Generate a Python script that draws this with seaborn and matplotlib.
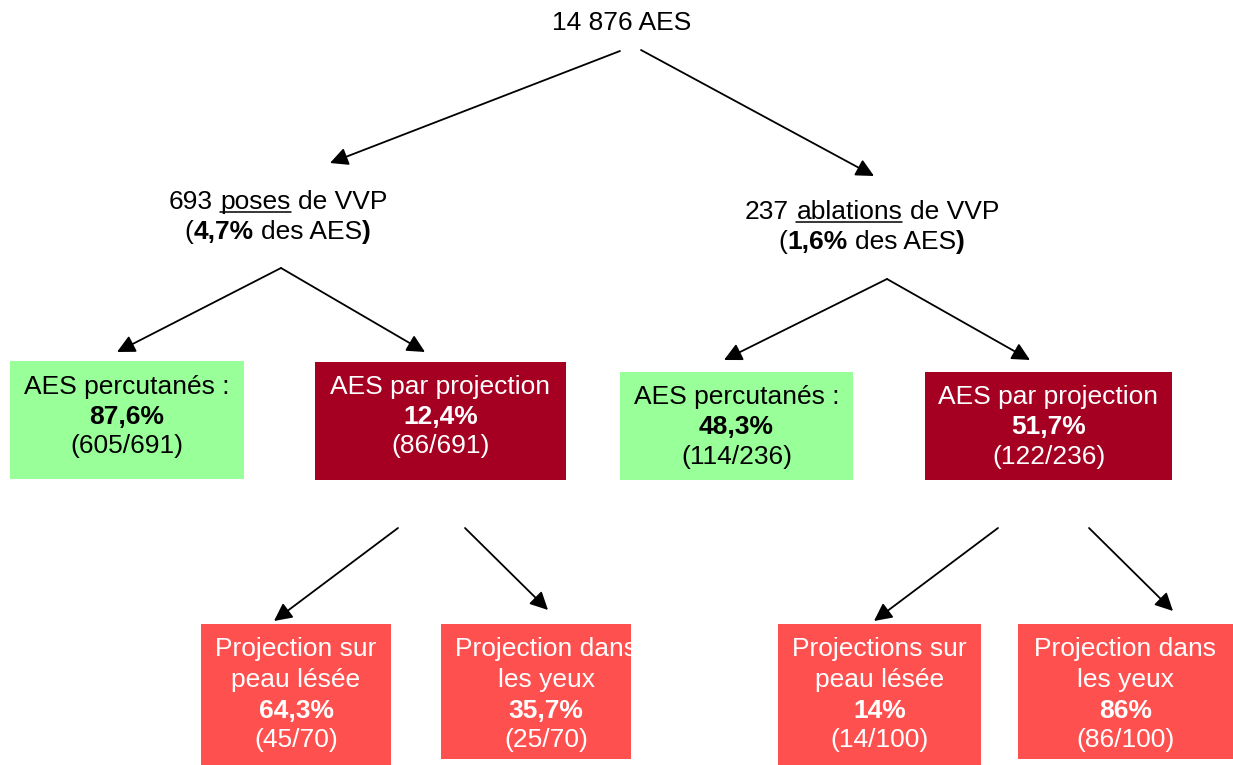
"""Flow diagram of AES (accidents d'exposition au sang) linked to VVP."""

import matplotlib
matplotlib.use("Agg")
import matplotlib.pyplot as plt
from matplotlib.patches import Rectangle
import seaborn as sns

# ---- data -----------------------------------------------------------------
total_aes = "14 876"
branch_names = ["poses", "ablations"]
branch_n = [693, 237]
branch_pct = ["4,7%", "1,6%"]

route_labels = ["AES percutanés :", "AES par projection"]
route_pct = [["87,6%", "12,4%"], ["48,3%", "51,7%"]]
route_counts = [["605/691", "86/691"], ["114/236", "122/236"]]

proj_labels = [
    [["Projection sur", "peau lésée"], ["Projection dans", "les yeux"]],
    [["Projections sur", "peau lésée"], ["Projection dans", "les yeux"]],
]
proj_pct = [["64,3%", "35,7%"], ["14%", "86%"]]
proj_counts = [["45/70", "25/70"], ["14/100", "86/100"]]

# ---- style / layout -------------------------------------------------------
GREEN = "#99FF99"
DARK_RED = "#A50021"
LIGHT_RED = "#FF5050"
FS = 19

sns.set_theme(style="white")
plt.rcParams["font.family"] = ["Liberation Sans", "DejaVu Sans"]
plt.rcParams["text.color"] = "black"

# layout in pixel coordinates (x from left, y from top)
branch_x = [278, 872]
branch_base = [209, 219]
branch_apex = [(281, 268), (887, 279)]
route_boxes = [
    [(10, 361, 234, 118), (315, 362, 251, 118)],
    [(620, 372, 233, 108), (925, 372, 247, 108)],
]
route_base = [[394, 424, 453], [404, 434, 464]]
route_tips = [[(117, 352), (425, 352)], [(724, 360), (1030, 360)]]
proj_boxes = [
    [(201, 624, 190, 141), (441, 624, 190, 135)],
    [(778, 624, 203, 141), (1018, 624, 215, 135)],
]
proj_shift = [[0, 10], [0, 0]]
proj_base = [656, 687, 718, 747]
proj_arrows = [
    [((398, 528), (274, 621)), ((465, 528), (548, 610))],
    [((998, 528), (874, 621)), ((1089, 528), (1173, 611))],
]
top_arrows = [((620, 51), (330, 163)), ((641, 50), (874, 176))]

fig = plt.figure(figsize=(12.33, 7.65), dpi=100)
ax = fig.add_axes([0, 0, 1, 1])
ax.set_xlim(0, 1233)
ax.set_ylim(765, 0)
ax.axis("off")
renderer = fig.canvas.get_renderer()


def arrow(start, end):
    ax.annotate(
        "", xy=end, xytext=start,
        arrowprops=dict(arrowstyle="-|>,head_length=0.6,head_width=0.3",
                        color="black", lw=1.3, mutation_scale=18,
                        shrinkA=0, shrinkB=0),
    )


def text_width(txt, bold):
    t = ax.text(0, 0, txt, fontsize=FS, fontweight="bold" if bold else "normal")
    w = t.get_window_extent(renderer).width
    t.remove()
    return w


SPACE = text_width("x x", False) - text_width("xx", False)


def rich_line(xc, y, parts, color="black"):
    # parts: list of (text, bold, underline); " " is a plain space
    widths = [SPACE if p[0] == " " else text_width(p[0], p[1]) for p in parts]
    x = xc - sum(widths) / 2
    for (txt, bold, ul), w in zip(parts, widths):
        if txt != " ":
            ax.text(x, y, txt, fontsize=FS, color=color, ha="left", va="baseline",
                    fontweight="bold" if bold else "normal")
            if ul:
                ax.plot([x, x + w], [y + 3, y + 3], color=color, lw=1.1)
        x += w


def box(rect, color, lines, bases, text_color, dx=0):
    x0, y0, w, h = rect
    ax.add_patch(Rectangle((x0, y0), w, h, facecolor=color, edgecolor="none"))
    for (txt, bold), yb in zip(lines, bases):
        ax.text(x0 + w / 2 + dx, yb, txt, fontsize=FS, color=text_color,
                ha="center", va="baseline",
                fontweight="bold" if bold else "normal")


# root
ax.text(622, 30, f"{total_aes} AES", fontsize=FS, color="black",
        ha="center", va="baseline")
for s, e in top_arrows:
    arrow(s, e)

for i in range(2):
    rich_line(branch_x[i], branch_base[i],
              [(str(branch_n[i]), False, False), (" ", False, False),
               (branch_names[i], False, True), (" ", False, False),
               ("de VVP", False, False)])
    rich_line(branch_x[i], branch_base[i] + 30,
              [("(", False, False), (branch_pct[i], True, False),
               (" ", False, False), ("des AES", False, False), (")", True, False)])

    for tip in route_tips[i]:
        arrow(branch_apex[i], tip)

    for j in range(2):
        color = GREEN if j == 0 else DARK_RED
        tcol = "black" if j == 0 else "white"
        box(route_boxes[i][j], color,
            [(route_labels[j], False), (route_pct[i][j], True),
             (f"({route_counts[i][j]})", False)],
            route_base[i], tcol)

        s, e = proj_arrows[i][j]
        arrow(s, e)
        box(proj_boxes[i][j], LIGHT_RED,
            [(proj_labels[i][j][0], False), (proj_labels[i][j][1], False),
             (proj_pct[i][j], True), (f"({proj_counts[i][j]})", False)],
            proj_base, "white", dx=proj_shift[i][j])

fig.savefig("out.png", dpi=100, facecolor="white")
